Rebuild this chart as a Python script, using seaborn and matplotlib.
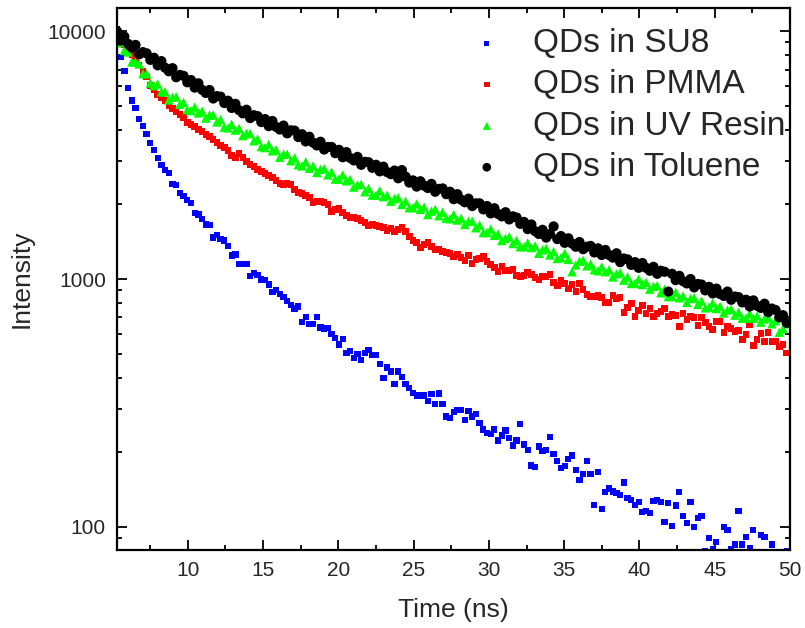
import numpy as np
import pandas as pd
import matplotlib
matplotlib.use("Agg")
import matplotlib.pyplot as plt
from matplotlib.ticker import MultipleLocator, LogLocator, NullFormatter, FixedLocator, FixedFormatter
import seaborn as sns

# time base of the decay curves (ns), 182 channels
t_first, t_last, n_chan = 5.3, 49.78, 182

su8 = [10200, 7870, 6910, 5900, 5250, 4900, 4420, 4130, 3840, 3550,
       3310, 3070, 2880, 2750, 2670, 2420, 2400, 2230, 2160, 2080,
       2020, 1850, 1820, 1750, 1660, 1650, 1470, 1510, 1450, 1430,
       1360, 1245, 1255, 1150, 1148, 1150, 1030, 1060, 1035, 995,
       990, 950, 885, 900, 870, 845, 815, 785, 760, 775,
       670, 705, 660, 660, 705, 637, 631, 635, 602, 580,
       544, 575, 503, 511, 480, 500, 473, 503, 516, 492,
       492, 454, 400, 440, 424, 378, 424, 402, 378, 364,
       347, 339, 339, 339, 322, 344, 314, 345, 313, 279,
       275, 290, 297, 297, 270, 294, 279, 285, 262, 247,
       240, 237, 247, 223, 234, 245, 229, 213, 223, 260,
       215, 204, 177, 175, 211, 203, 204, 230, 197, 185,
       173, 176, 188, 194, 170, 155, 164, 185, 164, 123,
       167, 118, 138, 143, 139, 137, 135, 151, 131, 128,
       123, 126, 115, 116, 114, 127, 128, 126, 105, 125,
       101, 122, 138, 111, 104, 126, 100, 109, 111, 80,
       90, 81, 87, 74, 100, 97, 81, 85, 116, 85,
       91, 82, 97, 74, 93, 91, 76, 85, 73, 75,
       72, 80]

pmma = [9460, 9100, 8780, 8380, 8000, 7635, 7290, 6890, 6520, 6050,
        5830, 5565, 5410, 5263, 5024, 4886, 4750, 4620, 4493, 4288,
        4210, 4132, 4020, 3944, 3835, 3765, 3660, 3560, 3460, 3398,
        3305, 3155, 3097, 3215, 3097, 2984, 2901, 2848, 2770, 2719,
        2669, 2619, 2571, 2500, 2431, 2409, 2431, 2409, 2300, 2237,
        2216, 2175, 2135, 2037, 2056, 2056, 2037, 2000, 1874, 1909,
        1927, 1856, 1806, 1773, 1773, 1756, 1724, 1692, 1645, 1660,
        1645, 1630, 1615, 1570, 1600, 1555, 1585, 1615, 1555, 1485,
        1430, 1404, 1340, 1378, 1404, 1353, 1316, 1316, 1292, 1280,
        1268, 1233, 1257, 1222, 1188, 1245, 1155, 1199, 1210, 1233,
        1177, 1144, 1112, 1072, 1122, 1082, 1082, 1092, 1033, 1024,
        1033, 1062, 1043, 1014, 995, 1024, 1024, 1043, 969, 942,
        986, 960, 915, 951, 890, 960, 907, 866, 850, 850,
        858, 842, 803, 803, 858, 834, 842, 732, 766, 796,
        706, 746, 781, 725, 759, 706, 725, 739, 759, 706,
        719, 713, 643, 725, 686, 706, 699, 649, 699, 667,
        643, 625, 674, 674, 609, 643, 631, 614, 620, 569,
        598, 655, 540, 569, 603, 559, 609, 559, 559, 535,
        545, 504]

uv_resin = [8970, 9030, 8360, 8240, 7510, 7500, 7370, 6740, 6730, 6180,
            6030, 6120, 5690, 5690, 5280, 5410, 5430, 5070, 5160, 4820,
            4780, 4940, 4680, 4750, 4460, 4590, 4590, 4300, 4400, 4100,
            4070, 4210, 3990, 4050, 3790, 3870, 3860, 3610, 3670, 3420,
            3390, 3490, 3290, 3320, 3100, 3190, 3190, 3000, 3080, 2890,
            2860, 2970, 2800, 2860, 2690, 2770, 2790, 2630, 2700, 2530,
            2530, 2630, 2490, 2520, 2350, 2400, 2410, 2250, 2320, 2180,
            2180, 2270, 2150, 2180, 2060, 2110, 2130, 2000, 2060, 1940,
            1940, 2010, 1910, 1950, 1820, 1880, 1910, 1800, 1860, 1760,
            1750, 1820, 1730, 1760, 1660, 1710, 1710, 1610, 1650, 1540,
            1540, 1590, 1500, 1520, 1430, 1460, 1480, 1390, 1430, 1350,
            1350, 1400, 1340, 1360, 1270, 1310, 1330, 1250, 1290, 1210,
            1220, 1270, 1200, 1070, 1140, 1180, 1190, 1130, 1150, 1090,
            1080, 1120, 1070, 1090, 1020, 1050, 1060, 990, 1020, 960,
            960, 1000, 950, 970, 910, 935, 940, 880, 910, 850,
            850, 885, 840, 855, 805, 835, 840, 790, 815, 765,
            770, 800, 760, 775, 730, 750, 755, 715, 735, 695,
            695, 725, 695, 710, 670, 690, 700, 660, 680, 610,
            630, 660]

toluene = [10000, 9160, 9500, 8890, 8580, 8800, 8070, 8230, 8140, 7660,
           7810, 7280, 7570, 7120, 6890, 7090, 6520, 6660, 6600, 6220,
           6350, 5920, 6160, 5800, 5630, 5790, 5350, 5470, 5440, 5130,
           5240, 4900, 5090, 4800, 4660, 4820, 4460, 4580, 4540, 4300,
           4420, 4140, 4340, 4110, 4010, 4160, 3870, 3980, 3970, 3740,
           3840, 3590, 3750, 3550, 3460, 3580, 3330, 3410, 3410, 3220,
           3320, 3100, 3250, 3080, 3010, 3110, 2890, 2970, 2960, 2810,
           2890, 2720, 2840, 2700, 2650, 2740, 2550, 2750, 2590, 2450,
           2500, 2360, 2480, 2380, 2330, 2420, 2250, 2310, 2320, 2200,
           2250, 2100, 2200, 2090, 2040, 2110, 1970, 2020, 2020, 1910,
           1970, 1840, 1930, 1830, 1790, 1860, 1740, 1790, 1770, 1670,
           1700, 1590, 1660, 1560, 1520, 1580, 1470, 1520, 1630, 1450,
           1490, 1400, 1460, 1390, 1350, 1410, 1320, 1350, 1360, 1280,
           1330, 1250, 1310, 1250, 1220, 1270, 1170, 1210, 1200, 1140,
           1170, 1110, 1160, 1110, 1080, 1120, 1050, 1080, 1070, 890,
           1050, 990, 1030, 980, 960, 1000, 925, 955, 950, 900,
           930, 875, 915, 870, 855, 890, 825, 850, 845, 805,
           825, 775, 820, 780, 765, 795, 735, 760, 750, 700,
           715, 665]

labels = ["QDs in SU8", "QDs in PMMA", "QDs in UV Resin", "QDs in Toluene"]
colors = ["#0000ff", "#ff0000", "#00ff00", "#000000"]
markers = ["s", "s", "^", "o"]
sizes = [20, 22, 46, 54]

time_ns = np.linspace(t_first, t_last, n_chan)
series = [su8, pmma, uv_resin, toluene]

sns.set_theme(style="white")
plt.rcParams["font.family"] = ["Liberation Sans", "DejaVu Sans"]

fig = plt.figure(figsize=(8.05, 6.28), dpi=100)
ax = fig.add_axes([117 / 805, 1 - 550 / 628, 673 / 805, 542 / 628])

for lab, vals, c, m, s in zip(labels, series, colors, markers, sizes):
    df = pd.DataFrame({"time": time_ns, "intensity": vals})
    sns.scatterplot(data=df, x="time", y="intensity", ax=ax, color=c,
                    marker=m, s=s, linewidth=0, edgecolor="none", label=lab)

ax.set_yscale("log")
ax.set_xlim(5.3, 50)
ax.set_ylim(80.7, 12400)

ax.set_xticks([10, 15, 20, 25, 30, 35, 40, 45, 50])
ax.xaxis.set_minor_locator(MultipleLocator(2.5))
ax.yaxis.set_major_locator(FixedLocator([100, 1000, 10000]))
ax.yaxis.set_major_formatter(FixedFormatter(["100", "1000", "10000"]))
ax.yaxis.set_minor_locator(LogLocator(base=10, subs=np.arange(2, 10)))
ax.yaxis.set_minor_formatter(NullFormatter())

ax.tick_params(which="both", direction="in", top=True, right=True,
               bottom=True, left=True, color="black", width=1.3)
ax.tick_params(which="major", length=7, labelsize=15, pad=8)
ax.tick_params(which="minor", length=3.5)
for sp in ax.spines.values():
    sp.set_color("black")
    sp.set_linewidth(1.6)

ax.set_xlabel("Time (ns)", fontsize=19, labelpad=13)
ax.set_ylabel("Intensity", fontsize=19, labelpad=10)

ax.legend(loc="upper left", bbox_to_anchor=(0.495, 1.0), frameon=False,
          fontsize=24, handletextpad=0.9, labelspacing=0.31,
          borderaxespad=0.2, markerscale=0.85, handlelength=1.0)

fig.savefig("out.png", dpi=100)
